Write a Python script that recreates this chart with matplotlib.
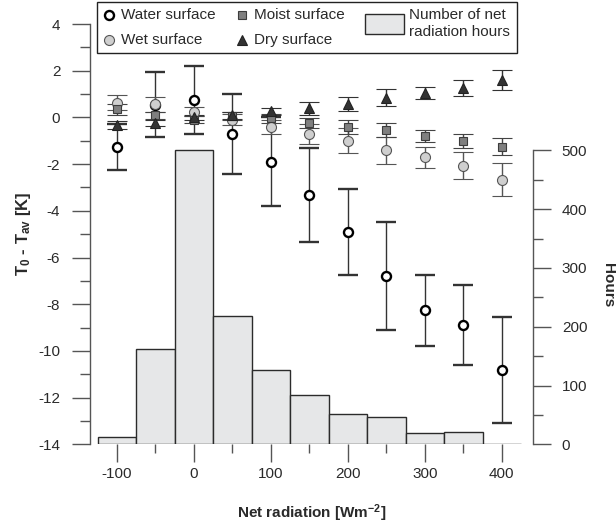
import matplotlib
matplotlib.use("Agg")
import matplotlib.pyplot as plt
from matplotlib.lines import Line2D
from matplotlib.patches import Patch
from matplotlib.legend_handler import HandlerPatch

# Net radiation classes (bin centres, W m-2)
net_rad = [-100, -50, 0, 50, 100, 150, 200, 250, 300, 350, 400]

# Mean T0 - Tav (K) and standard deviations per surface type
water = [-1.28, 0.55, 0.75, -0.70, -1.90, -3.33, -4.90, -6.79, -8.25, -8.89, -10.82]
water_sd = [0.98, 1.38, 1.47, 1.72, 1.90, 2.00, 1.83, 2.32, 1.52, 1.72, 2.27]

wet = [0.63, 0.56, 0.24, -0.09, -0.40, -0.72, -1.00, -1.40, -1.71, -2.07, -2.66]
wet_sd = [0.32, 0.32, 0.20, 0.25, 0.29, 0.44, 0.54, 0.58, 0.46, 0.58, 0.71]

moist = [0.34, 0.10, -0.09, 0.06, -0.04, -0.23, -0.41, -0.54, -0.80, -1.03, -1.26]
moist_sd = [0.23, 0.15, 0.15, 0.18, 0.18, 0.22, 0.32, 0.32, 0.25, 0.30, 0.37]

dry = [-0.33, -0.23, 0.00, 0.10, 0.27, 0.39, 0.58, 0.84, 1.05, 1.27, 1.60]
dry_sd = [0.18, 0.12, 0.12, 0.15, 0.15, 0.28, 0.30, 0.37, 0.27, 0.34, 0.43]

# Number of hours in each net radiation class
hours = [13, 162, 500, 219, 127, 84, 51, 47, 19, 21, 1]

x_ticks = [-100, 0, 100, 200, 300, 400]
y_ticks = [-14, -12, -10, -8, -6, -4, -2, 0, 2, 4]
h_ticks = [0, 100, 200, 300, 400, 500]

plt.rcParams.update({
    "font.family": ["Liberation Sans", "DejaVu Sans"],
    "font.size": 11,
    "axes.unicode_minus": False,
    "mathtext.fontset": "custom",
    "mathtext.rm": "Liberation Sans:bold",
    "mathtext.bf": "Liberation Sans:bold",
    "mathtext.it": "Liberation Sans:bold",
    "mathtext.sf": "Liberation Sans:bold",
    "mathtext.default": "bf",
})

AX_GREY = "#555555"
TXT = "#2a2a2a"

fig = plt.figure(figsize=(6.16, 5.31), dpi=100)
rect = [90 / 616, 1 - 444.3 / 531, 443.3 / 616, 420.3 / 531]
ax = fig.add_axes(rect)
ax2 = ax.twinx()
ax.set_zorder(ax2.get_zorder() + 1)
ax.patch.set_visible(False)

# Histogram of hours (right axis)
ax2.bar(net_rad, hours, width=50, color="#e6e7e8", edgecolor="#2b2b2b",
        linewidth=1.0, align="center")
ax2.set_ylim(0, 715)
ax2.set_yticks(h_ticks)
ax2.set_yticks([50, 150, 250, 350, 450], minor=True)
for s in ("top", "left", "bottom"):
    ax2.spines[s].set_visible(False)
ax2.spines["right"].set_bounds(0, 500)
ax2.spines["right"].set_color(AX_GREY)
ax2.spines["right"].set_linewidth(1.0)
ax2.tick_params(axis="y", which="major", direction="out", length=13, width=1,
                color=AX_GREY, pad=7.5, labelcolor=TXT, labelsize=11)
ax2.tick_params(axis="y", which="minor", direction="out", length=7, width=1,
                color=AX_GREY)
ax2.set_ylabel("Hours", fontweight="bold", rotation=270, va="center",
               ha="center", fontsize=11, color=TXT)
ax2.yaxis.set_label_coords((608 - 90) / 443.3, (444.3 - 285) / 420.3)

# Surface temperature deviations (left axis)
eb_common = dict(linestyle="none", elinewidth=1.0, capsize=7, capthick=1.0)
ax.errorbar(net_rad, water, yerr=water_sd, marker="o", ms=6.5, mfc="white",
            mec="black", mew=1.7, ecolor="#333333", **eb_common)
ax.errorbar(net_rad, wet, yerr=wet_sd, marker="o", ms=7.2, mfc="#cfcfcf",
            mec="#555555", mew=0.8, ecolor="#555555", **eb_common)
ax.errorbar(net_rad, moist, yerr=moist_sd, marker="s", ms=6.2, mfc="#7f7f7f",
            mec="#3c3c3c", mew=0.8, ecolor="#444444", **eb_common)
ax.errorbar(net_rad, dry, yerr=dry_sd, marker="^", ms=7.0, mfc="#333333",
            mec="#222222", mew=0.8, ecolor="#333333", **eb_common)

ax.set_xlim(-135, 441)
ax.set_ylim(-14, 4)
ax.set_xticks(x_ticks)
ax.set_xticks([-50, 50, 150, 250, 350], minor=True)
ax.set_yticks(y_ticks)
ax.set_yticks([-13, -11, -9, -7, -5, -3, -1, 1, 3], minor=True)
for s in ("top", "right", "bottom"):
    ax.spines[s].set_visible(False)
ax.spines["left"].set_color(AX_GREY)
ax.spines["left"].set_linewidth(1.0)
ax.tick_params(axis="y", which="major", direction="out", length=13, width=1,
               color=AX_GREY, pad=8.4, labelcolor=TXT, labelsize=11)
ax.tick_params(axis="y", which="minor", direction="out", length=7, width=1,
               color=AX_GREY)
ax.tick_params(axis="x", which="major", direction="out", length=13, width=1,
               color=AX_GREY, pad=3, labelcolor=TXT, labelsize=11)
ax.tick_params(axis="x", which="minor", direction="out", length=6.5, width=1,
               color=AX_GREY)

ax.set_ylabel(r"T$_0$ - T$_{av}$ [K]", fontweight="bold", fontsize=12, color=TXT)
ax.yaxis.set_label_coords((33 - 90) / 443.3, 0.5)
ax.set_xlabel(r"Net radiation [Wm$^{-2}$]", fontweight="bold", fontsize=11,
              color=TXT)
ax.xaxis.set_label_coords(0.5, (444.3 - 502) / 420.3)


class WidePatchHandler(HandlerPatch):
    """Legend handler drawing a wider, taller swatch for the histogram."""

    def legend_artist(self, legend, orig_handle, fontsize, handlebox):
        handlebox.width = 39 * 72 / 100
        handlebox.height = 20 * 72 / 100
        return super().legend_artist(legend, orig_handle, fontsize, handlebox)


handles = [
    Line2D([], [], linestyle="none", marker="o", ms=6.5, mfc="white", mec="black", mew=1.7),
    Line2D([], [], linestyle="none", marker="o", ms=7.2, mfc="#cfcfcf", mec="#555555", mew=0.8),
    Line2D([], [], linestyle="none", marker="s", ms=6.2, mfc="#7f7f7f", mec="#3c3c3c", mew=0.8),
    Line2D([], [], linestyle="none", marker="^", ms=7.0, mfc="#333333", mec="#222222", mew=0.8),
    Patch(facecolor="#e6e7e8", edgecolor="#2b2b2b", linewidth=1.0),
]
labels = ["Water surface", "Wet surface", "Moist surface", "Dry surface",
          "Number of net\nradiation hours"]
leg = ax.legend(handles, labels, ncol=3, loc="upper center",
                bbox_to_anchor=(306.7 / 616, 1 - 2 / 531),
                bbox_transform=fig.transFigure, frameon=True, fancybox=False,
                framealpha=1, edgecolor="#222222", borderpad=0.42,
                handlelength=0.8, handletextpad=0.35, columnspacing=1.35,
                labelspacing=0.68, borderaxespad=0, fontsize=11,
                handler_map={Patch: WidePatchHandler()})
leg.get_frame().set_linewidth(1.0)
for t in leg.get_texts():
    t.set_color(TXT)
    t.set_linespacing(1.25)
# Align the legend columns at their tops and centre the swatch on its label
leg._legend_handle_box.align = "top"
for col in leg._legend_handle_box.get_children():
    for item in col.get_children():
        item.align = "center"

fig.savefig("out.png", dpi=100)
